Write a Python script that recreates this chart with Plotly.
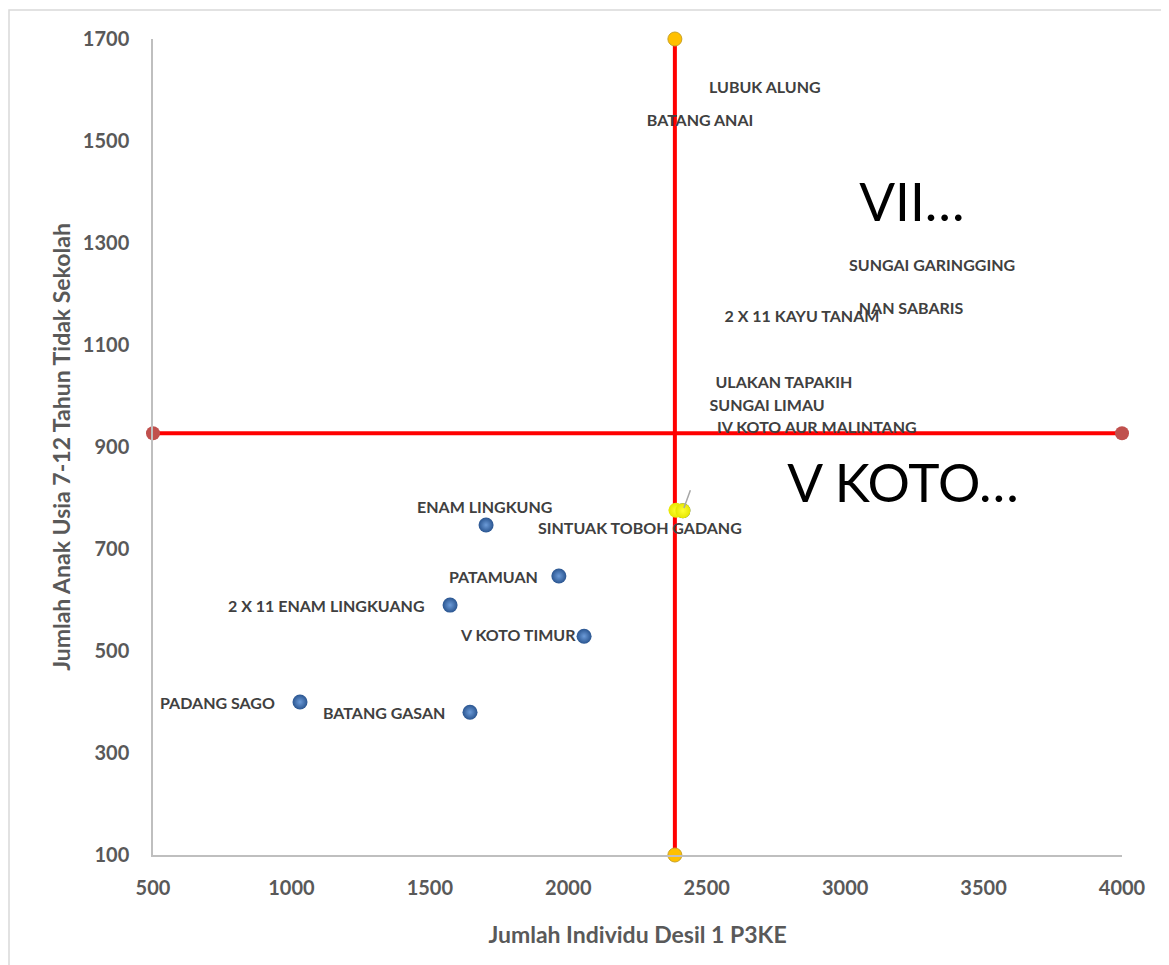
import plotly.graph_objects as go

# Blue points (kecamatan with markers)
pt_names = ["PADANG SAGO", "BATANG GASAN", "2 X 11 ENAM LINGKUANG", "ENAM LINGKUNG",
            "PATAMUAN", "V KOTO TIMUR", "SINTUAK TOBOH GADANG"]
pt_x = [1031, 1645, 1573, 1703, 1966, 2057, 2414]
pt_y = [400, 380, 590, 747, 647, 529, 775]

# Labels without visible markers
lab_names = ["LUBUK ALUNG", "BATANG ANAI", "SUNGAI GARINGGING", "NAN SABARIS",
             "2 X 11 KAYU TANAM", "ULAKAN TAPAKIH", "SUNGAI LIMAU", "IV KOTO AUR MALINTANG"]
lab_x = [2710, 2476, 3314, 3238, 2844, 2779, 2718, 2898]
lab_y = [1602, 1537, 1253, 1169, 1153, 1024, 978, 935]

big_names = ["VII…", "V KOTO…"]
big_x = [3241, 3209]
big_y = [1369, 818]

# Yellow highlighted point
yel_x = [2389, 2414]
yel_y = [776, 775]

# Quadrant lines
vline_x = [2385, 2385]
vline_y = [100, 1700]
hline_x = [500, 4000]
hline_y = [927, 927]

x_ticks = [500, 1000, 1500, 2000, 2500, 3000, 3500, 4000]
y_ticks = [100, 300, 500, 700, 900, 1100, 1300, 1500, 1700]

FONT = "Lato"
fig = go.Figure()

fig.add_trace(go.Scatter(x=hline_x, y=hline_y, mode="lines+markers",
                         line=dict(color="#FF0000", width=4),
                         marker=dict(size=14, color="#C0504D"),
                         cliponaxis=False, showlegend=False))
fig.add_trace(go.Scatter(x=vline_x, y=vline_y, mode="lines+markers",
                         line=dict(color="#FF0000", width=4),
                         marker=dict(size=14, color="#FFC000", line=dict(color="#C9A227", width=1)),
                         cliponaxis=False, showlegend=False))

fig.add_trace(go.Scatter(x=pt_x, y=pt_y, mode="markers",
                         marker=dict(size=15, color="#2A5590",
                                     gradient=dict(type="radial", color="#6C9BD8")),
                         showlegend=False))
fig.add_trace(go.Scatter(x=yel_x, y=yel_y, mode="markers",
                         marker=dict(size=15, color="#E6E600",
                                     gradient=dict(type="radial", color="#FFFF33")),
                         showlegend=False))

fig.add_trace(go.Scatter(x=lab_x, y=lab_y, mode="text", text=lab_names,
                         textposition="middle center",
                         textfont=dict(family=FONT, size=16, color="#404040", weight="bold"),
                         showlegend=False))
fig.add_trace(go.Scatter(x=big_x, y=big_y, mode="text", text=big_names,
                         textposition="middle center",
                         textfont=dict(family=FONT, size=53, color="#000000"),
                         showlegend=False))

# label offsets (pixels) for marker labels
offsets = {
    "PADANG SAGO": ("right", -23, 0),
    "BATANG GASAN": ("right", -23, 0),
    "2 X 11 ENAM LINGKUANG": ("right", -23, 0),
    "ENAM LINGKUNG": ("center", -2, 19),
    "PATAMUAN": ("right", -19, 0),
    "V KOTO TIMUR": ("right", -6, 2),
    "SINTUAK TOBOH GADANG": ("center", -43, -17),
}
for n, x, y in zip(pt_names, pt_x, pt_y):
    anc, xs, ys = offsets[n]
    fig.add_annotation(x=x, y=y, text=n, showarrow=False, xanchor=anc, yanchor="middle",
                       xshift=xs, yshift=ys,
                       font=dict(family=FONT, size=16, color="#404040", weight="bold"))

# leader line from yellow point
fig.add_annotation(x=yel_x[1], y=yel_y[1], text="", showarrow=True, arrowhead=0,
                   arrowcolor="#A6A6A6", arrowwidth=1.5, ax=8, ay=-22, standoff=3)

fig.update_layout(
    width=1161, height=957,
    margin=dict(l=145, r=47, t=31, b=110),
    paper_bgcolor="white", plot_bgcolor="white",
    font=dict(family=FONT, color="#595959"),
    xaxis=dict(range=[500, 4000], tickvals=x_ticks, showgrid=False, zeroline=False,
               showline=True, linecolor="#BFBFBF", linewidth=1.5, ticks="",
               ticklabelstandoff=14,
               tickfont=dict(family=FONT, size=20, color="#595959", weight="bold"),
               title=dict(text="Jumlah Individu Desil 1 P3KE", standoff=29,
                          font=dict(family=FONT, size=23, color="#595959", weight="bold"))),
    yaxis=dict(range=[100, 1700], tickvals=y_ticks, showgrid=False, zeroline=False,
               showline=True, linecolor="#BFBFBF", linewidth=1.5, ticks="",
               ticklabelstandoff=18,
               tickfont=dict(family=FONT, size=20, color="#595959", weight="bold"),
               title=dict(text="Jumlah Anak Usia 7-12 Tahun Tidak Sekolah", standoff=6,
                          font=dict(family=FONT, size=23, color="#595959", weight="bold"))),
)

# outer chart border
fig.add_shape(type="rect", xref="paper", yref="paper",
              x0=(9 - 153) / 969, x1=(1180 - 153) / 969,
              y0=-(975 - 855) / 816, y1=1 + (39 - 10) / 816,
              line=dict(color="#D9D9D9", width=1.5), layer="below")

fig.write_html("out.html")
